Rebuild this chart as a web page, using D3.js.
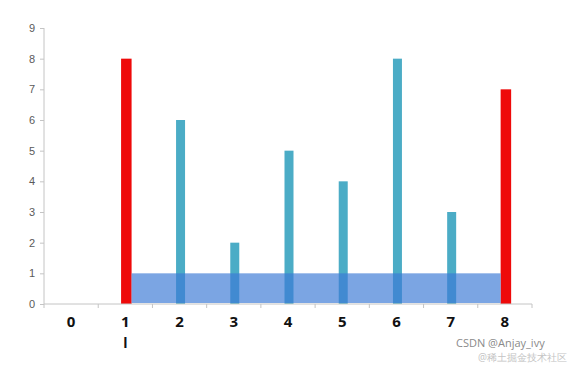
<!DOCTYPE html>
<html>
<head>
<meta charset="utf-8">
<script src="https://cdn.jsdelivr.net/npm/d3@7"></script>
<style>
  body { margin: 0; background: #fff; }
  svg { display: block; font-family: "Open Sans", "DejaVu Sans", sans-serif; }
</style>
</head>
<body>
<svg id="chart" width="586" height="367"></svg>
<script>
// container heights
var categories = ["0", "1", "2", "3", "4", "5", "6", "7", "8"];
var heights = [0, 8, 6, 2, 5, 4, 8, 3, 7];
var redIndex = [1, 8];         // the two walls
var waterLevel = 1;            // water between the walls
var yTicks = [0, 1, 2, 3, 4, 5, 6, 7, 8, 9];

var svg = d3.select("#chart");

var x = d3.scaleBand()
    .domain(categories)
    .range([44, 532]);

var y = d3.scaleLinear()
    .domain([0, 9])
    .range([304, 28]);

// teal / red bars
svg.selectAll("rect.bar")
    .data(heights)
    .enter()
    .append("rect")
    .attr("class", "bar")
    .attr("x", function(d, i){
        var w = redIndex.indexOf(i) >= 0 ? 10.5 : 9;
        return x(categories[i]) + x.bandwidth() / 2 - w / 2 + 1;
    })
    .attr("width", function(d, i){
        return redIndex.indexOf(i) >= 0 ? 10.5 : 9;
    })
    .attr("y", function(d){ return y(d); })
    .attr("height", function(d){ return y(0) - y(d); })
    .attr("fill", function(d, i){
        return redIndex.indexOf(i) >= 0 ? "#ee0a0a" : "#4bacc6";
    });

// water area between the red walls
var left = categories[redIndex[0]];
var right = categories[redIndex[1]];
var x0 = x(left) + x.bandwidth() / 2 + 1 + 10.5 / 2;
var x1 = x(right) + x.bandwidth() / 2 + 1 - 10.5 / 2;
svg.append("rect")
    .attr("x", x0)
    .attr("width", x1 - x0)
    .attr("y", y(waterLevel))
    .attr("height", y(0) - y(waterLevel) - 1)
    .attr("fill", "rgb(60,122,214)")
    .attr("fill-opacity", 0.68);

// y axis
var yAxis = d3.axisLeft(y)
    .tickValues(yTicks)
    .tickSize(4)
    .tickPadding(5);
var gy = svg.append("g")
    .attr("transform", "translate(44,0)")
    .call(yAxis);
gy.select(".domain").attr("stroke", "#c4c4c4").attr("d", "M0," + y(9) + "V" + y(0));
gy.selectAll(".tick line").attr("stroke", "#c4c4c4");
gy.selectAll(".tick text")
    .attr("fill", "#5a5a5a")
    .style("font-size", "11px");

// x axis: ticks at band edges
var edges = categories.map(function(c){ return x(c); }).concat([x.range()[1]]);
var gx = svg.append("g");
gx.append("line")
    .attr("x1", x.range()[0]).attr("x2", x.range()[1])
    .attr("y1", y(0)).attr("y2", y(0))
    .attr("stroke", "#c4c4c4");
gx.selectAll("line.tk")
    .data(edges)
    .enter()
    .append("line")
    .attr("class", "tk")
    .attr("x1", function(d){ return d; }).attr("x2", function(d){ return d; })
    .attr("y1", y(0)).attr("y2", y(0) + 4)
    .attr("stroke", "#c4c4c4");
gx.selectAll("text")
    .data(categories)
    .enter()
    .append("text")
    .attr("x", function(d){ return x(d) + x.bandwidth() / 2; })
    .attr("y", 327)
    .attr("text-anchor", "middle")
    .style("font-size", "15px")
    .style("font-weight", "bold")
    .attr("fill", "#111")
    .text(function(d){ return d; });

// pointer marker under the left wall
svg.append("text")
    .attr("x", x(left) + x.bandwidth() / 2)
    .attr("y", 348)
    .attr("text-anchor", "middle")
    .style("font-size", "14px")
    .style("font-weight", "bold")
    .attr("fill", "#111")
    .text("l");

// watermark
svg.append("text")
    .attr("x", 456).attr("y", 347)
    .style("font-size", "11px")
    .attr("fill", "#8a8a8a")
    .text("CSDN @Anjay_ivy");
svg.append("text")
    .attr("x", 478).attr("y", 361)
    .style("font-size", "10px")
    .attr("fill", "#c4c4c4")
    .text("@稀土掘金技术社区");
</script>
</body>
</html>
